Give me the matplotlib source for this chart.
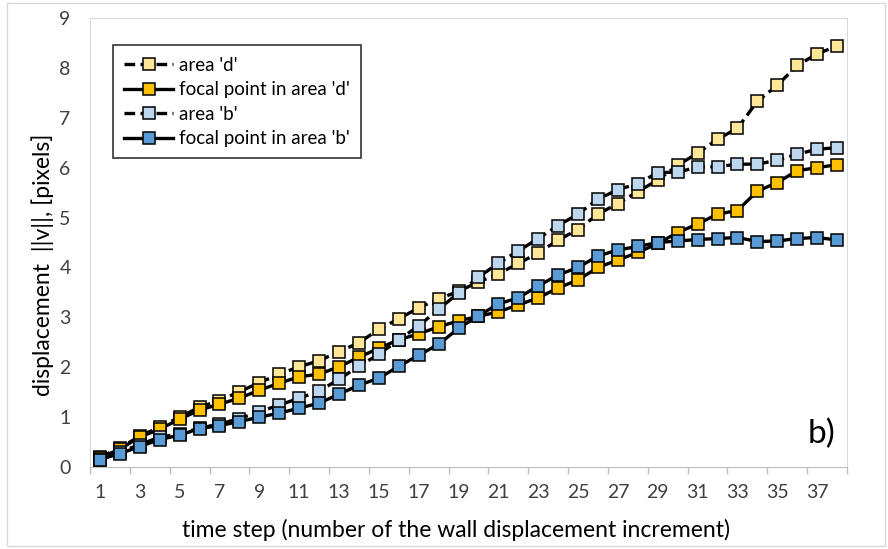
import numpy as np
from matplotlib import pyplot as plt
from matplotlib.patches import Rectangle

plt.rcParams['font.family'] = ['Lato', 'DejaVu Sans']

# time steps (wall displacement increments)
steps = np.arange(1, 39)

# displacement ||v|| in pixels
area_d = [0.20, 0.38, 0.62, 0.80, 1.00, 1.20, 1.33, 1.51, 1.69, 1.86,
          2.01, 2.13, 2.31, 2.49, 2.76, 2.97, 3.19, 3.37, 3.52, 3.71,
          3.87, 4.08, 4.29, 4.55, 4.76, 5.07, 5.28, 5.52, 5.75, 6.05,
          6.29, 6.57, 6.79, 7.33, 7.65, 8.05, 8.28, 8.44]
focal_d = [0.18, 0.36, 0.60, 0.76, 0.96, 1.14, 1.26, 1.38, 1.54, 1.68,
           1.81, 1.86, 2.01, 2.20, 2.38, 2.55, 2.67, 2.81, 2.93, 3.02,
           3.11, 3.25, 3.39, 3.59, 3.75, 4.00, 4.15, 4.30, 4.48, 4.70,
           4.87, 5.07, 5.14, 5.53, 5.70, 5.94, 6.00, 6.06]
area_b = [0.15, 0.30, 0.45, 0.60, 0.66, 0.78, 0.86, 0.97, 1.11, 1.24,
          1.38, 1.52, 1.76, 2.02, 2.26, 2.55, 2.83, 3.16, 3.49, 3.80,
          4.09, 4.33, 4.58, 4.84, 5.07, 5.37, 5.56, 5.68, 5.90, 5.91,
          6.01, 6.02, 6.07, 6.07, 6.15, 6.27, 6.37, 6.40]
focal_b = [0.15, 0.27, 0.41, 0.55, 0.64, 0.77, 0.83, 0.91, 1.00, 1.08,
           1.18, 1.28, 1.46, 1.64, 1.78, 2.02, 2.24, 2.46, 2.78, 3.03,
           3.27, 3.39, 3.63, 3.85, 4.00, 4.23, 4.35, 4.42, 4.50, 4.53,
           4.56, 4.58, 4.60, 4.52, 4.53, 4.58, 4.60, 4.55]

labels = ["area 'd'", "focal point in area 'd'", "area 'b'", "focal point in area 'b'"]
colors = ['#FFE699', '#FFC000', '#BDD7EE', '#5B9BD5']
x_ticks = np.arange(1, 38, 2)

fig = plt.figure(figsize=(8.88, 5.49), dpi=100)
ax = fig.add_axes([90 / 888, 1 - 467 / 549, (847 - 90) / 888, (467 - 18) / 549])

# light outer chart border
fig.patches.append(Rectangle((7 / 888, 3 / 549), 878 / 888, 543 / 549,
                             transform=fig.transFigure, fill=False,
                             edgecolor='#d9d9d9', lw=1))

series = [area_d, focal_d, area_b, focal_b]
for i, vals in enumerate(series):
    dashed = i in (0, 2)
    ax.plot(steps, vals, color='black', lw=2.4,
            dashes=(3.2, 1.6) if dashed else (None, None),
            marker='s', markersize=8.5, markerfacecolor=colors[i],
            markeredgecolor='black', markeredgewidth=1.1,
            label=labels[i], zorder=3 + i)

ax.set_xlim(0.5, 38.5)
ax.set_ylim(0, 9)

ax.set_xticks(x_ticks)
ax.set_xticks(np.arange(0.5, 39, 2), minor=True)
ax.tick_params(axis='x', which='major', length=0, pad=12, labelsize=14, labelcolor='#404040')
ax.tick_params(axis='x', which='minor', length=5, color='#bfbfbf', width=1)
ax.set_yticks(np.arange(0, 10, 1))
ax.tick_params(axis='y', length=0, pad=14, labelsize=14, labelcolor='#404040')

for side in ['top', 'right', 'left']:
    ax.spines[side].set_color('#d9d9d9')
ax.spines['bottom'].set_color('#bfbfbf')

ax.set_xlabel('time step (number of the wall displacement increment)', fontsize=16.5, labelpad=8)
ax.xaxis.set_label_coords(0.484, -0.115)
ax.set_ylabel('displacement  ||v||, [pixels]', fontsize=16.5, labelpad=6)
ax.yaxis.set_label_coords(-0.047, 0.45)

ax.text(0.985, 0.04, 'b)', transform=ax.transAxes, fontsize=24, ha='right', va='bottom')

leg = ax.legend(loc='upper left', bbox_to_anchor=(0.018, 0.96), fontsize=13.5,
                frameon=True, fancybox=False, edgecolor='black', handlelength=2.6,
                handletextpad=0.3, labelspacing=0.4, borderpad=0.6)
leg.get_frame().set_linewidth(1.2)

fig.savefig('out.png', dpi=100)
